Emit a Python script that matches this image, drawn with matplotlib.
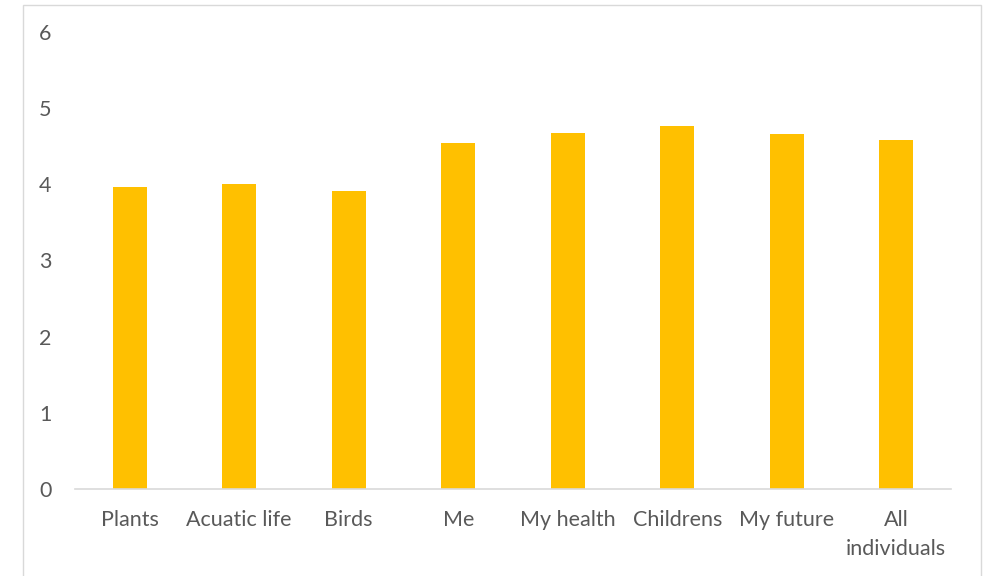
import numpy as np
import matplotlib.pyplot as plt
from matplotlib.patches import Rectangle

categories = ["Plants", "Acuatic life", "Birds", "Me", "My health",
              "Childrens", "My future", "All\nindividuals"]
scores = [3.97, 4.00, 3.91, 4.54, 4.68, 4.77, 4.66, 4.58]
y_ticks = [0, 1, 2, 3, 4, 5, 6]

plt.rcParams['font.family'] = ['Lato', 'DejaVu Sans']

fig = plt.figure(figsize=(9.85, 5.76), dpi=100)
ax = fig.add_axes([75 / 985, (576 - 489) / 576, (951 - 75) / 985, (489 - 32) / 576])

# light frame around the chart area
fig.patches.append(Rectangle((23 / 985, -0.05), (981 - 23) / 985, 1.05 - 5 / 576,
                             transform=fig.transFigure, fill=False,
                             edgecolor='#d9d9d9', linewidth=1))

x = np.arange(len(categories))
ax.bar(x, scores, width=0.31, color='#FFC000')

ax.set_xlim(-0.5, len(categories) - 0.5)
ax.set_ylim(0, 6)
ax.set_yticks(y_ticks)
ax.set_xticks(x)
ax.set_xticklabels(categories, linespacing=1.6)

for side in ['top', 'right', 'left']:
    ax.spines[side].set_visible(False)
ax.spines['bottom'].set_color('#d9d9d9')
ax.spines['bottom'].set_linewidth(1.2)

ax.tick_params(axis='both', length=0, colors='#595959', labelsize=15.5)
ax.tick_params(axis='y', pad=17)
ax.tick_params(axis='x', pad=15)

fig.savefig("out.png", dpi=100)
